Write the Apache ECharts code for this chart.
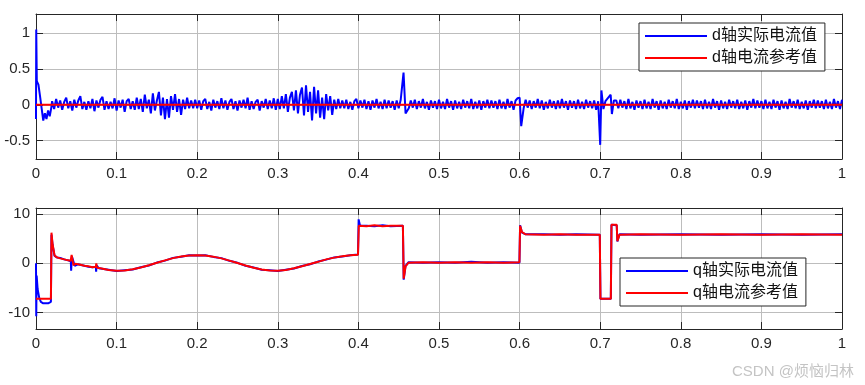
<!DOCTYPE html>
<html>
<head>
<meta charset="utf-8">
<script src="https://cdn.jsdelivr.net/npm/echarts@6/dist/echarts.min.js"></script>
<style>
html,body{margin:0;padding:0;background:#fff;}
#chart{width:865px;height:385px;}
</style>
</head>
<body>
<div id="chart"></div>
<script>
// ---------------- data ----------------
const seriesNames = ['d轴实际电流值', 'd轴电流参考值', 'q轴实际电流值', 'q轴电流参考值'];
const xTickValues = [0, 0.1, 0.2, 0.3, 0.4, 0.5, 0.6, 0.7, 0.8, 0.9, 1];
const dYTicks = [-0.5, 0, 0.5, 1];
const qYTicks = [-10, 0, 10];
const watermarkText = 'CSDN @烦恼归林';

// d-axis actual current: start-up transient [t, value]
const dActualStart = [[0,-0.2],[0.0003,1.05],[0.001,0.33],[0.003,0.28],[0.005,0.12],[0.007,-0.05],[0.009,-0.22],[0.011,-0.12],[0.013,-0.2],[0.015,-0.08],[0.017,-0.16],[0.019,-0.04]];
// d-axis actual current: sampled stretches (sample step 0.0025 s), each with its start time
const SAMPLE_DT = 0.0025;
const dNoise1T0 = 0.02;
const dNoise1 = [0.05,-0.06,0.08,-0.04,0.06,-0.07,0.04,0.1,-0.05,0.05,-0.08,0.07,-0.04,0.06,0.12,-0.06,0.04,-0.07,0.05,-0.05,0.08,-0.09,0.06,-0.04,0.07,0.11,-0.07,0.05,-0.06,0.04,-0.05,0.09,-0.08,0.06,-0.04,0.07,-0.1,0.05,0.08,-0.06];
const dNoise2T0 = 0.12;
const dNoise2 = [0.05,-0.07,0.1,-0.06,0.08,-0.1,0.14,-0.05,0.07,-0.12,0.16,-0.08,0.06,0.18,-0.15,0.1,-0.2,0.08,-0.18,0.12,-0.07,0.15,-0.1,0.08,-0.14,0.07,-0.06,0.1,-0.05,0.06,-0.05,0.07];
const dNoise3T0 = 0.2;
const dNoise3 = [-0.05,0.06,-0.07,0.05,0.08,-0.06,0.04,-0.08,0.07,-0.04,0.05,-0.06,0.09,-0.05,0.06,-0.07,0.04,0.08,-0.06,0.05,-0.08,0.06,-0.04,0.07,-0.05,0.1,-0.07,0.05,-0.06,0.04,0.07,-0.08,0.05,-0.04,0.08,-0.06,0.06,-0.05,0.09,-0.07];
const dNoise4T0 = 0.3;
const dNoise4 = [0.08,-0.06,0.12,-0.05,0.15,-0.1,0.1,0.18,-0.08,0.2,-0.12,0.14,0.24,-0.15,0.27,-0.1,0.18,-0.22,0.25,-0.12,0.2,-0.18,0.1,-0.2,0.15,-0.08,0.12,-0.14,0.07,-0.06,0.08,-0.05];
const dNoise5T0 = 0.38;
const dNoise5 = [0.06,-0.05,0.07,-0.06,0.04,-0.07,0.05,0.08,-0.05,0.06,-0.04,0.07,-0.06,0.05,-0.07,0.06,-0.04,0.08,-0.05,0.04,-0.06,0.07,-0.05,0.06,-0.04,0.05,-0.07,0.06,-0.05,0.07];
const dNoise6T0 = 0.4625;
const dNoise6 = [-0.05,0.06,-0.04,0.07,-0.06,0.05,-0.04,0.08,-0.05,0.04,-0.07,0.06,-0.04,0.05,-0.06,0.07,-0.05,0.04,-0.06,0.08,-0.04,0.05,-0.07,0.06,-0.05,0.04,-0.06,0.07,-0.04,0.05,-0.05,0.08,-0.06,0.04,-0.05,0.06,-0.07,0.05,-0.04,0.07,-0.05,0.06,-0.04,0.05,-0.06,0.07,-0.05,0.04,-0.06,0.08,-0.04,0.05,-0.07,0.06,0.09];
const dNoise7T0 = 0.605;
const dNoise7 = [-0.05,0.07,-0.04,0.06,-0.06,0.05,-0.04,0.08,-0.05,0.06,-0.07,0.04,-0.05,0.07,-0.04,0.05,-0.06,0.06,-0.05,0.08,-0.04,0.05,-0.07,0.06,-0.04,0.05,-0.06,0.07,-0.05,0.04,-0.06,0.07,-0.04,0.05,-0.05,0.06,-0.07,0.05];
const dNoise8T0 = 0.72;
const dNoise8 = [0.06,-0.05,0.07,-0.04,0.05,-0.06,0.08,-0.05,0.04,-0.07,0.06,-0.04,0.05,-0.06,0.07,-0.05,0.04,-0.06,0.08,-0.04,0.05,-0.07,0.06,-0.05,0.04,-0.06,0.07,-0.04,0.05,-0.05,0.08,-0.06,0.04,-0.05,0.06,-0.07,0.05,-0.04,0.07,-0.05,0.06,-0.04,0.05,-0.06,0.07,-0.05,0.04,-0.06,0.08,-0.04,0.05,-0.07,0.06,-0.05,0.04,-0.06,0.07,-0.04,0.05,-0.05,0.07,-0.06,0.04,-0.05,0.06,-0.07,0.05,-0.04,0.08,-0.05,0.06,-0.04,0.05,-0.06,0.07,-0.05,0.04,-0.06,0.07,-0.04,0.05,-0.07,0.06,-0.05,0.04,-0.06,0.08,-0.04,0.05,-0.05,0.07,-0.06,0.04,-0.05,0.06,-0.07,0.05,-0.04,0.07,-0.05,0.06,-0.04,0.05,-0.06,0.07,-0.05,0.04,-0.06,0.08,-0.04,0.05,-0.06,0.07];
// d-axis actual current: spikes at the load / speed changes [t, value]
const dActualEvents = [[0.456,0.45],[0.4585,-0.12],[0.6,0.1],[0.602,-0.3],[0.7,-0.56],[0.7015,0.2],[0.704,-0.06],[0.7065,0.05],[0.713,0.14],[0.7145,-0.13],[0.717,0.06]];
// d-axis reference current [t, value]
const dReference = [[0,0],[1,0]];

// q-axis actual current [t, value]
const qActual = [[0,0],[0.0003,-10.7],[0.0008,-2.5],[0.002,-5.2],[0.004,-7.0],[0.006,-7.8],[0.009,-8.1],[0.015,-8.1],[0.0185,-7.8],[0.0192,5.8],[0.0205,3.8],[0.023,1.5],[0.026,1.2],[0.03,1.1],[0.035,0.8],[0.04,0.6],[0.0432,0.4],[0.0436,-1.5],[0.0445,1.4],[0.046,0.6],[0.048,-0.5],[0.052,-0.2],[0.06,-0.5],[0.065,-0.7],[0.07,-0.8],[0.0742,-0.7],[0.0746,-1.7],[0.0752,-0.4],[0.078,-1.0],[0.09,-1.3],[0.10,-1.55],[0.11,-1.4],[0.12,-1.25],[0.13,-0.8],[0.14,-0.45],[0.15,0.15],[0.16,0.55],[0.17,1.1],[0.18,1.35],[0.19,1.65],[0.20,1.6],[0.21,1.65],[0.22,1.3],[0.23,1.05],[0.24,0.5],[0.25,0.1],[0.26,-0.5],[0.27,-0.85],[0.28,-1.3],[0.29,-1.4],[0.30,-1.55],[0.31,-1.3],[0.32,-1.05],[0.33,-0.55],[0.34,-0.2],[0.35,0.35],[0.36,0.75],[0.37,1.2],[0.38,1.4],[0.39,1.65],[0.3995,1.8],[0.4003,8.9],[0.402,7.6],[0.41,7.6],[0.42,7.5],[0.43,7.7],[0.44,7.5],[0.4552,7.6],[0.4562,-3.3],[0.4585,-0.5],[0.462,0.2],[0.48,0.1],[0.5,0.2],[0.52,0.1],[0.54,0.3],[0.56,0.1],[0.58,0.2],[0.5998,0.1],[0.6006,7.7],[0.603,6.2],[0.607,5.9],[0.63,5.9],[0.65,5.8],[0.67,5.9],[0.6995,5.8],[0.7003,-7.2],[0.7132,-7.2],[0.714,7.8],[0.7205,7.7],[0.7213,4.4],[0.724,5.9],[0.75,5.8],[0.8,5.9],[0.85,5.8],[0.9,5.9],[0.95,5.8],[1.0,5.9]];
// q-axis reference current [t, value]
const qReference = [[0,-7.2],[0.0185,-7.2],[0.0192,6.2],[0.0205,4.0],[0.023,1.6],[0.026,1.2],[0.03,1.0],[0.035,0.8],[0.04,0.6],[0.043,0.5],[0.0442,1.7],[0.0455,1.4],[0.0465,-0.4],[0.049,-0.1],[0.055,-0.3],[0.06,-0.5],[0.065,-0.6],[0.07,-0.8],[0.0742,-0.7],[0.0748,0.0],[0.0756,-0.9],[0.08,-1.0],[0.09,-1.35],[0.10,-1.5],[0.11,-1.45],[0.12,-1.2],[0.13,-0.85],[0.14,-0.4],[0.15,0.1],[0.16,0.6],[0.17,1.05],[0.18,1.4],[0.19,1.6],[0.20,1.65],[0.21,1.6],[0.22,1.35],[0.23,1.0],[0.24,0.55],[0.25,0.05],[0.26,-0.45],[0.27,-0.9],[0.28,-1.25],[0.29,-1.45],[0.30,-1.5],[0.31,-1.35],[0.32,-1.0],[0.33,-0.6],[0.34,-0.15],[0.35,0.3],[0.36,0.8],[0.37,1.15],[0.38,1.45],[0.39,1.62],[0.3995,1.75],[0.4005,7.6],[0.41,7.5],[0.42,7.7],[0.43,7.5],[0.44,7.6],[0.4552,7.6],[0.4562,-3.1],[0.4585,-0.6],[0.462,0.1],[0.48,0.2],[0.5,0.1],[0.52,0.2],[0.54,0.1],[0.56,0.2],[0.58,0.1],[0.5998,0.2],[0.6006,7.6],[0.603,6.3],[0.607,5.9],[0.63,5.8],[0.65,5.9],[0.67,5.8],[0.6995,5.8],[0.7003,-7.2],[0.7132,-7.2],[0.714,7.8],[0.7205,7.8],[0.7213,4.5],[0.724,5.8],[0.75,5.9],[0.8,5.8],[0.85,5.9],[0.9,5.8],[0.95,5.9],[1.0,5.8]];

// ---------------- build ----------------
function stretch(t0, vals) {
  return vals.map((v, i) => [Math.round((t0 + i * SAMPLE_DT) * 100000) / 100000, v]);
}
const dActual = [].concat(
  dActualStart,
  stretch(dNoise1T0, dNoise1), stretch(dNoise2T0, dNoise2), stretch(dNoise3T0, dNoise3),
  stretch(dNoise4T0, dNoise4), stretch(dNoise5T0, dNoise5), stretch(dNoise6T0, dNoise6),
  stretch(dNoise7T0, dNoise7), stretch(dNoise8T0, dNoise8),
  dActualEvents
).sort((a, b) => a[0] - b[0]);

const AX = '#262626';
const GRIDC = '#bdbdbd';
const FONT = "'Liberation Sans', Arial, 'Noto Sans CJK SC', sans-serif";

function xAxisMain(gi) {
  return {
    type: 'value', gridIndex: gi, min: 0, max: 1, interval: 0.1, position: 'bottom',
    axisLine: { onZero: false, lineStyle: { color: AX, width: 1 } },
    axisTick: { inside: true, length: 7, lineStyle: { color: AX } },
    axisLabel: { margin: 7, color: AX, fontSize: 15, fontFamily: FONT,
      customValues: xTickValues },
    splitLine: { show: true, lineStyle: { color: GRIDC, width: 1 } }
  };
}
function xAxisTop(gi) {
  return {
    type: 'value', gridIndex: gi, min: 0, max: 1, interval: 0.1, position: 'top',
    axisLine: { onZero: false, lineStyle: { color: AX, width: 1 } },
    axisTick: { inside: true, length: 7, lineStyle: { color: AX } },
    axisLabel: { show: false }, splitLine: { show: false }
  };
}
function yAxisMain(gi, mn, mx, ticks) {
  return {
    type: 'value', gridIndex: gi, min: mn, max: mx, position: 'left',
    axisLine: { onZero: false, lineStyle: { color: AX, width: 1 } },
    axisTick: { inside: true, length: 7, lineStyle: { color: AX }, customValues: ticks },
    axisLabel: { margin: 6, color: AX, fontSize: 15, fontFamily: FONT, customValues: ticks },
    splitLine: { show: true, lineStyle: { color: GRIDC, width: 1 } }
  };
}
function yAxisRight(gi, mn, mx, ticks) {
  return {
    type: 'value', gridIndex: gi, min: mn, max: mx, position: 'right',
    axisLine: { onZero: false, lineStyle: { color: AX, width: 1 } },
    axisTick: { inside: true, length: 7, lineStyle: { color: AX }, customValues: ticks },
    axisLabel: { show: false, customValues: ticks }, splitLine: { show: false }
  };
}
function legendAt(left, top, names) {
  return {
    data: names, orient: 'vertical', left: left, top: top,
    backgroundColor: '#fff', borderColor: AX, borderWidth: 1, borderRadius: 0,
    padding: [5, 8, 5, 6], itemGap: 6, itemWidth: 62, itemHeight: 2, icon: 'rect',
    textStyle: { fontSize: 16, color: '#111', fontFamily: FONT }, selectedMode: false
  };
}
function lineSeries(name, data, color, xi, yi) {
  return {
    name: name, type: 'line', data: data, xAxisIndex: xi, yAxisIndex: yi,
    showSymbol: false, symbol: 'none', lineStyle: { color: color, width: 2 },
    itemStyle: { color: color }, animation: false, silent: true
  };
}

const chart = echarts.init(document.getElementById('chart'), null, { renderer: 'canvas' });
chart.setOption({
  backgroundColor: '#fff',
  animation: false,
  grid: [
    { left: 36, top: 14, width: 806, height: 145 },
    { left: 36, top: 208, width: 806, height: 121 }
  ],
  xAxis: [xAxisMain(0), xAxisTop(0), xAxisMain(1), xAxisTop(1)],
  yAxis: [
    yAxisMain(0, -0.758, 1.268, dYTicks), yAxisRight(0, -0.758, 1.268, dYTicks),
    yAxisMain(1, -13.3, 11.2, qYTicks), yAxisRight(1, -13.3, 11.2, qYTicks)
  ],
  legend: [
    legendAt(639, 23, [seriesNames[0], seriesNames[1]]),
    legendAt(620, 258, [seriesNames[2], seriesNames[3]])
  ],
  series: [
    lineSeries(seriesNames[0], dActual, '#0000ff', 0, 0),
    lineSeries(seriesNames[1], dReference, '#ff0000', 0, 0),
    lineSeries(seriesNames[2], qActual, '#0000ff', 2, 2),
    lineSeries(seriesNames[3], qReference, '#ff0000', 2, 2)
  ],
  graphic: [{
    type: 'text', left: 732, top: 364,
    style: { text: watermarkText, fill: '#c4c4c4', fontSize: 15, fontFamily: FONT }
  }]
});
</script>
</body>
</html>
